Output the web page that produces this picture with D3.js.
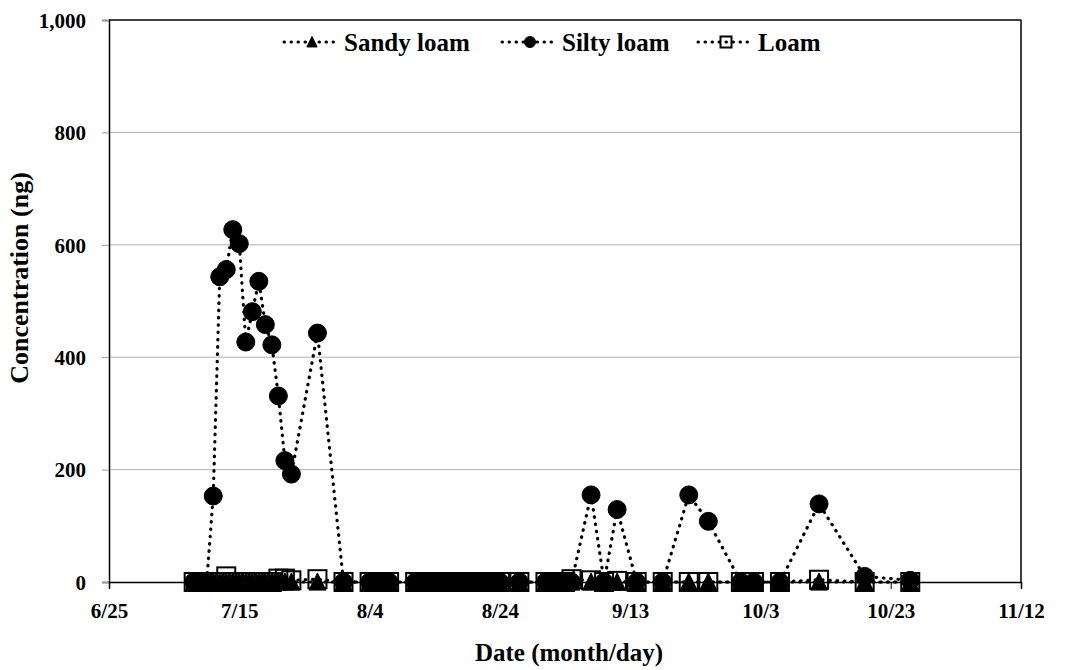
<!DOCTYPE html>
<html>
<head>
<meta charset="utf-8">
<script src="https://cdn.jsdelivr.net/npm/d3@7"></script>
<style>
  body { margin: 0; background: #fff; }
  text { font-family: "Liberation Serif", "Times New Roman", serif; font-weight: bold; fill: #000; }
</style>
</head>
<body>
<div id="chart"></div>
<script>
// data
const sampleDates = [
  "7/8","7/9","7/10","7/11","7/12","7/13","7/14","7/15","7/16","7/17","7/18","7/19","7/20","7/21","7/22","7/23",
  "7/27","7/31",
  "8/4","8/5","8/6","8/7",
  "8/11","8/12","8/13","8/14","8/15","8/16","8/17","8/18","8/19","8/20","8/21","8/22","8/23","8/24",
  "8/27",
  "8/31","9/1","9/2","9/3","9/4",
  "9/7","9/9","9/11","9/14","9/18","9/22","9/25",
  "9/30","10/2","10/6","10/12","10/19","10/26"
];
const sandyLoam = [
  0,0,0,0,0,0,0,0,0,0,0,0,0,0,0,0,
  0,0,
  0,0,0,0,
  0,0,0,0,0,0,0,0,0,0,0,0,0,0,
  0,
  0,0,0,0,0,
  0,0,0,0,0,0,0,
  0,0,0,0,0,0
];
const siltyLoam = [
  0,0,0,153,543,556,627,602,427,481,535,458,422,331,216,192,
  443,0,
  0,0,0,0,
  0,0,0,0,0,0,0,0,0,0,0,0,0,0,
  0,
  0,0,0,0,0,
  155,0,129,0,0,155,108,
  0,0,0,139,10,3
];
const loam = [
  0,0,0,0,0,10,0,0,0,0,0,0,0,6,6,3,
  5,0,
  0,0,0,0,
  0,0,0,0,0,0,0,0,0,0,0,0,0,0,
  0,
  0,0,0,0,5,
  3,0,2,0,0,0,0,
  0,0,0,4,0,0
];
const seriesNames = ["Sandy loam", "Silty loam", "Loam"];
const xTickLabels = ["6/25","7/15","8/4","8/24","9/13","10/3","10/23","11/12"];
const yTickValues = [0, 200, 400, 600, 800, 1000];

//layout
let chartWidth = 1069;
let chartHeight = 670;
let plotLeft = 109, plotRight = 1021, plotTop = 20, plotBottom = 582;

let parseDate = d3.timeParse("%m/%d");
let formatDate = d3.timeFormat("%-m/%-d");

var svg = d3.select("#chart")
  .append("svg")
  .attr("width", chartWidth)
  .attr("height", chartHeight);

let x = d3.scaleTime()
  .domain([parseDate(xTickLabels[0]), parseDate(xTickLabels[xTickLabels.length - 1])])
  .range([plotLeft, plotRight]);

let y = d3.scaleLinear()
  .domain([0, 1000])
  .range([plotBottom, plotTop]);

//gridlines
svg.append("g")
  .selectAll("line")
  .data(yTickValues.filter(v => v > 0 && v < 1000))
  .enter().append("line")
  .attr("x1", plotLeft).attr("x2", plotRight)
  .attr("y1", d => y(d)).attr("y2", d => y(d))
  .attr("stroke", "#b3b3b3")
  .attr("stroke-width", 1);

//frame top + right
svg.append("line").attr("x1", plotLeft).attr("x2", plotRight).attr("y1", plotTop).attr("y2", plotTop)
  .attr("stroke", "#000").attr("stroke-width", 1.5);
svg.append("line").attr("x1", plotRight).attr("x2", plotRight).attr("y1", plotTop).attr("y2", plotBottom)
  .attr("stroke", "#000").attr("stroke-width", 1.5);

//y axis
let yAxis = svg.append("g")
  .attr("transform", "translate(" + plotLeft + ",0)")
  .call(d3.axisLeft(y).tickValues(yTickValues).tickFormat(d3.format(",")).tickSize(7).tickPadding(16));
yAxis.select(".domain").attr("stroke", "#000").attr("stroke-width", 1.5);
yAxis.selectAll(".tick line").attr("stroke", "#999");
yAxis.selectAll(".tick text").style("font-size", "21px").attr("dy", "0.35em");

//x axis
let xAxis = svg.append("g")
  .attr("transform", "translate(0," + plotBottom + ")")
  .call(d3.axisBottom(x).tickValues(xTickLabels.map(parseDate)).tickFormat(formatDate).tickSize(7).tickPadding(14));
xAxis.select(".domain").attr("stroke", "#000").attr("stroke-width", 1.5);
xAxis.selectAll(".tick line").attr("stroke", "#000");
xAxis.selectAll(".tick text").style("font-size", "21px");

//axis titles
svg.append("text")
  .attr("x", (plotLeft + plotRight) / 2 + 4)
  .attr("y", 661)
  .style("text-anchor", "middle")
  .style("font-size", "25px")
  .text("Date (month/day)");

svg.append("text")
  .attr("transform", "translate(28,278) rotate(-90)")
  .style("text-anchor", "middle")
  .style("font-size", "26px")
  .text("Concentration (ng)");

//markers
function drawMarker(g, kind, cx, cy, s){
  if(kind === 0){
    g.append("path")
      .attr("d", "M" + cx + "," + (cy - s * 0.5) + "L" + (cx + s * 0.47) + "," + (cy + s * 0.45) + "L" + (cx - s * 0.47) + "," + (cy + s * 0.45) + "Z")
      .attr("fill", "#000").attr("stroke", "#000").attr("stroke-width", 1);
  } else if(kind === 1){
    g.append("circle").attr("cx", cx).attr("cy", cy).attr("r", s / 2)
      .attr("fill", "#000").attr("stroke", "#000").attr("stroke-width", 1);
  } else {
    g.append("rect").attr("x", cx - s / 2).attr("y", cy - s / 2).attr("width", s).attr("height", s)
      .attr("fill", "none").attr("stroke", "#000").attr("stroke-width", 2);
  }
}

let allSeries = [sandyLoam, siltyLoam, loam];
let line = d3.line()
  .x(d => x(d.date))
  .y(d => y(d.value));

allSeries.forEach(function(values, k){
  let pts = sampleDates.map((s, i) => ({date: parseDate(s), value: values[i]}));
  let g = svg.append("g");
  g.append("path")
    .datum(pts)
    .attr("d", line)
    .attr("fill", "none")
    .attr("stroke", "#000")
    .attr("stroke-width", 3.2)
    .attr("stroke-linecap", "round")
    .attr("stroke-dasharray", "0.5 6.8");
  pts.forEach(p => drawMarker(g, k, x(p.date), y(p.value), 18));
});

//legend
let legendX = [284, 502, 698];
let legendY = 42;
seriesNames.forEach(function(name, k){
  let lg = svg.append("g");
  lg.append("line")
    .attr("x1", legendX[k]).attr("x2", legendX[k] + 56)
    .attr("y1", legendY).attr("y2", legendY)
    .attr("stroke", "#000").attr("stroke-width", 3)
    .attr("stroke-linecap", "round")
    .attr("stroke-dasharray", "0.5 6.5");
  drawMarker(lg, k, legendX[k] + 28, legendY, 11);
  lg.append("text")
    .attr("x", legendX[k] + 60)
    .attr("y", legendY)
    .attr("dy", "0.35em")
    .style("font-size", "25px")
    .text(name);
});
</script>
</body>
</html>
